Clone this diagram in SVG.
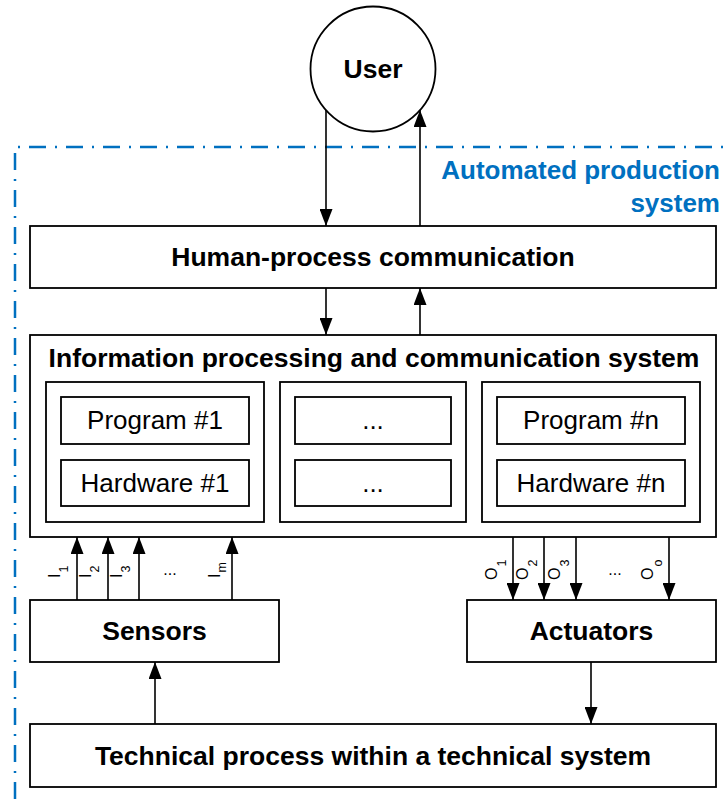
<svg xmlns="http://www.w3.org/2000/svg" width="723" height="801" viewBox="0 0 723 801">
<style>
.box{fill:#fff;stroke:#000;stroke-width:1.8}
.t{font-family:"Liberation Sans",Arial,sans-serif;font-size:26px;fill:#000;text-anchor:middle}
.b{font-weight:bold;font-size:26.5px}
.lbl{font-family:"Liberation Sans",Arial,sans-serif;font-size:16px;fill:#000}
.sub{font-size:12.5px}
.ln{stroke:#000;stroke-width:1.6;fill:none}
.blue{font-family:"Liberation Sans",Arial,sans-serif;font-size:26px;font-weight:bold;fill:#0070C0;text-anchor:end}
.bd{stroke:#0070C0;stroke-width:2.5;fill:none;stroke-dasharray:17 9 2 9}
</style>
<defs>
<marker id="ah" markerUnits="userSpaceOnUse" markerWidth="18" markerHeight="13" refX="17" refY="6.5" orient="auto">
<path d="M0,0 L17,6.5 L0,13 Z" fill="#000"/>
</marker>
</defs>
<rect width="723" height="801" fill="#fff"/>
<g id="boundary">
<line class="bd" x1="15" y1="147" x2="723" y2="147" stroke-dashoffset="23"/>
<line class="bd" x1="15" y1="147" x2="15" y2="801" stroke-dashoffset="31"/>
<text class="blue" x="720" y="179">Automated production</text>
<text class="blue" x="720" y="212">system</text>
</g>
<g id="user">
<circle class="box" cx="373" cy="69" r="62.5"/>
<text class="t b" x="373" y="78">User</text>
</g>
<g id="hpc">
<rect class="box" x="30" y="226" width="686" height="62"/>
<text class="t b" x="373" y="266">Human-process communication</text>
</g>
<g id="ipcs">
<rect class="box" x="30" y="335" width="686" height="202"/>
<text class="t b" x="374" y="367">Information processing and communication system</text>
</g>
<g id="unit1">
<rect class="box" x="46" y="382" width="218" height="140"/>
<g id="program1"><rect class="box" x="61" y="397" width="188" height="47"/><text class="t" x="155" y="429">Program #1</text></g>
<g id="hardware1"><rect class="box" x="61" y="460" width="188" height="46"/><text class="t" x="155" y="492">Hardware #1</text></g>
</g>
<g id="unitmid">
<rect class="box" x="280" y="382" width="186" height="140"/>
<g id="programmid"><rect class="box" x="295" y="397" width="156" height="47"/><text class="t" x="373" y="429">...</text></g>
<g id="hardwaremid"><rect class="box" x="295" y="460" width="156" height="46"/><text class="t" x="373" y="492">...</text></g>
</g>
<g id="unitn">
<rect class="box" x="482" y="382" width="218" height="140"/>
<g id="programn"><rect class="box" x="497" y="397" width="188" height="47"/><text class="t" x="591" y="429">Program #n</text></g>
<g id="hardwaren"><rect class="box" x="497" y="460" width="188" height="46"/><text class="t" x="591" y="492">Hardware #n</text></g>
</g>
<g id="sensors">
<rect class="box" x="30" y="600" width="249" height="62"/>
<text class="t b" x="154.5" y="640">Sensors</text>
</g>
<g id="actuators">
<rect class="box" x="467" y="600" width="249" height="62"/>
<text class="t b" x="591.5" y="640">Actuators</text>
</g>
<g id="process">
<rect class="box" x="30" y="724" width="686" height="63"/>
<text class="t b" x="373" y="765">Technical process within a technical system</text>
</g>
<g id="connectors">
<line class="ln" x1="326" y1="110" x2="326" y2="226" marker-end="url(#ah)"/>
<line class="ln" x1="420" y1="226" x2="420" y2="110" marker-end="url(#ah)"/>
<line class="ln" x1="326" y1="288" x2="326" y2="335" marker-end="url(#ah)"/>
<line class="ln" x1="420" y1="335" x2="420" y2="288" marker-end="url(#ah)"/>
<line class="ln" x1="77" y1="600" x2="77" y2="537" marker-end="url(#ah)"/>
<line class="ln" x1="108" y1="600" x2="108" y2="537" marker-end="url(#ah)"/>
<line class="ln" x1="139" y1="600" x2="139" y2="537" marker-end="url(#ah)"/>
<line class="ln" x1="232" y1="600" x2="232" y2="537" marker-end="url(#ah)"/>
<line class="ln" x1="513" y1="537" x2="513" y2="600" marker-end="url(#ah)"/>
<line class="ln" x1="544" y1="537" x2="544" y2="600" marker-end="url(#ah)"/>
<line class="ln" x1="576" y1="537" x2="576" y2="600" marker-end="url(#ah)"/>
<line class="ln" x1="669" y1="537" x2="669" y2="600" marker-end="url(#ah)"/>
<line class="ln" x1="155" y1="724" x2="155" y2="662" marker-end="url(#ah)"/>
<line class="ln" x1="591" y1="662" x2="591" y2="724" marker-end="url(#ah)"/>
<text class="lbl" transform="translate(60,578) rotate(-90)">I<tspan class="sub" dx="1" dy="8">1</tspan></text>
<text class="lbl" transform="translate(91,578) rotate(-90)">I<tspan class="sub" dx="1" dy="8">2</tspan></text>
<text class="lbl" transform="translate(122,578) rotate(-90)">I<tspan class="sub" dx="1" dy="8">3</tspan></text>
<text class="lbl" transform="translate(220,578) rotate(-90)">I<tspan class="sub" dx="1" dy="6">m</tspan></text>
<text class="lbl" x="170" y="575" text-anchor="middle">...</text>
<text class="lbl" transform="translate(497,580) rotate(-90)">O<tspan class="sub" dx="1" dy="9">1</tspan></text>
<text class="lbl" transform="translate(528,580) rotate(-90)">O<tspan class="sub" dx="1" dy="9">2</tspan></text>
<text class="lbl" transform="translate(560,580) rotate(-90)">O<tspan class="sub" dx="1" dy="9">3</tspan></text>
<text class="lbl" transform="translate(653,580) rotate(-90)">O<tspan class="sub" dx="1" dy="9">o</tspan></text>
<text class="lbl" x="615" y="575" text-anchor="middle">...</text>
</g>
</svg>
